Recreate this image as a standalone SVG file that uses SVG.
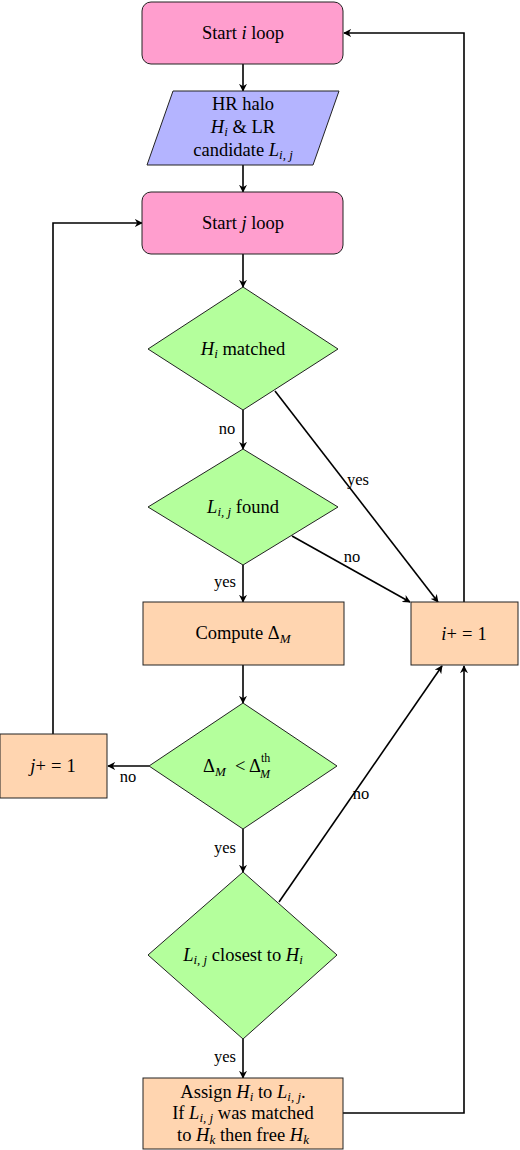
<svg xmlns="http://www.w3.org/2000/svg" width="520" height="1150" viewBox="0 0 520 1150">
<defs>
<style>
.t{font-family:"Liberation Serif","DejaVu Serif",serif;font-size:18.5px;fill:#000;text-anchor:middle}
.ts{font-family:"Liberation Serif","DejaVu Serif",serif;font-size:18.5px;fill:#000}
.sm{font-family:"Liberation Serif","DejaVu Serif",serif;font-size:12px;fill:#000}
.lbl{font-family:"Liberation Serif","DejaVu Serif",serif;font-size:16.5px;fill:#000;text-anchor:middle}
.i{font-style:italic}
.s{font-size:13px;font-style:italic}
.pink{fill:#FF9ECE;stroke:#222;stroke-width:1}
.blue{fill:#B4B4FF;stroke:#222;stroke-width:1}
.green{fill:#B4FF9C;stroke:#222;stroke-width:1}
.orange{fill:#FFD5B0;stroke:#222;stroke-width:1}
.c{fill:none;stroke:#000;stroke-width:1.6;marker-end:url(#ah)}
</style>
<marker id="ah" viewBox="0 0 10 10" refX="9" refY="5" markerWidth="8" markerHeight="8" orient="auto" markerUnits="userSpaceOnUse">
<path d="M0,0 L10,5 L0,10 L3,5 Z" fill="#000"/>
</marker>
</defs>
<g id="connectors">
<path class="c" d="M243,64 L243,91"/>
<path class="c" d="M243,165 L243,192"/>
<path class="c" d="M243,254 L243,287"/>
<path class="c" d="M243,410 L243,449"/>
<path class="c" d="M243,565 L243,602"/>
<path class="c" d="M243,665 L243,703"/>
<path class="c" d="M243,829 L243,872"/>
<path class="c" d="M243,1039 L243,1078"/>
<path class="c" d="M275,391 L438,602"/>
<path class="c" d="M292,536 L410,602"/>
<path class="c" d="M149,766 L108,766"/>
<path class="c" d="M53,734 L53,223 L142,223"/>
<path class="c" d="M279,902 L442,666"/>
<path class="c" d="M343,1113 L464,1113 L464,666"/>
<path class="c" d="M464,602 L464,33 L344,33"/>
<text class="lbl" x="227" y="434">no</text>
<text class="lbl" x="358" y="485">yes</text>
<text class="lbl" x="352" y="562">no</text>
<text class="lbl" x="225" y="587">yes</text>
<text class="lbl" x="128" y="782">no</text>
<text class="lbl" x="225" y="853">yes</text>
<text class="lbl" x="361" y="799">no</text>
<text class="lbl" x="225" y="1062">yes</text>
</g>
<g id="start_i">
<rect class="pink" x="142" y="2" width="201" height="62" rx="9"/>
<text class="t" x="243" y="39">Start <tspan class="i">i</tspan> loop</text>
</g>
<g id="input">
<polygon class="blue" points="173,91 339,91 313,165 147,165"/>
<text class="t" x="243" y="110">HR halo</text>
<text class="t" x="243" y="133"><tspan class="i">H</tspan><tspan class="s" dy="3">i</tspan><tspan dy="-3"> &amp; LR</tspan></text>
<text class="t" x="243" y="156">candidate <tspan class="i">L</tspan><tspan class="s" dy="3">i, j</tspan></text>
</g>
<g id="start_j">
<rect class="pink" x="142" y="192" width="201" height="62" rx="9"/>
<text class="t" x="243" y="229">Start <tspan class="i">j</tspan> loop</text>
</g>
<g id="d_matched">
<polygon class="green" points="243,287 338,349 243,410 148,349"/>
<text class="t" x="243" y="355"><tspan class="i">H</tspan><tspan class="s" dy="3">i</tspan><tspan dy="-3"> matched</tspan></text>
</g>
<g id="d_found">
<polygon class="green" points="243,449 338,507 243,565 148,507"/>
<text class="t" x="243" y="513"><tspan class="i">L</tspan><tspan class="s" dy="3">i, j</tspan><tspan dy="-3"> found</tspan></text>
</g>
<g id="compute">
<rect class="orange" x="143" y="602" width="201" height="63"/>
<text class="t" x="243" y="639">Compute Δ<tspan class="s" dy="4">M</tspan></text>
</g>
<g id="inc_i">
<rect class="orange" x="411" y="602" width="107" height="63"/>
<text class="t" x="464" y="640"><tspan class="i">i</tspan>+<tspan dx="5">=</tspan><tspan dx="5">1</tspan></text>
</g>
<g id="d_delta">
<polygon class="green" points="243,703 337,766 243,829 149,766"/>
<text class="ts" x="203" y="772">Δ<tspan class="s" dy="4">M</tspan></text>
<text class="ts" x="235" y="772">&lt;</text>
<text class="ts" x="249" y="772">Δ</text>
<text class="sm" x="261" y="762">th</text>
<text class="sm i" x="260" y="778">M</text>
</g>
<g id="inc_j">
<rect class="orange" x="0" y="734" width="107" height="64"/>
<text class="t" x="53" y="772"><tspan class="i">j</tspan>+<tspan dx="5">=</tspan><tspan dx="5">1</tspan></text>
</g>
<g id="d_closest">
<polygon class="green" points="243,872 337,955 243,1039 148,955"/>
<text class="t" x="243" y="961"><tspan class="i">L</tspan><tspan class="s" dy="3">i, j</tspan><tspan dy="-3"> closest to </tspan><tspan class="i">H</tspan><tspan class="s" dy="3">i</tspan></text>
</g>
<g id="assign">
<rect class="orange" x="143" y="1078" width="200" height="71"/>
<text class="t" x="243" y="1098">Assign <tspan class="i">H</tspan><tspan class="s" dy="3">i</tspan><tspan dy="-3"> to </tspan><tspan class="i">L</tspan><tspan class="s" dy="3">i, j</tspan><tspan dy="-3">.</tspan></text>
<text class="t" x="243" y="1119">If <tspan class="i">L</tspan><tspan class="s" dy="3">i, j</tspan><tspan dy="-3"> was matched</tspan></text>
<text class="t" x="243" y="1141">to <tspan class="i">H</tspan><tspan class="s" dy="3">k</tspan><tspan dy="-3"> then free </tspan><tspan class="i">H</tspan><tspan class="s" dy="3">k</tspan></text>
</g>
</svg>
